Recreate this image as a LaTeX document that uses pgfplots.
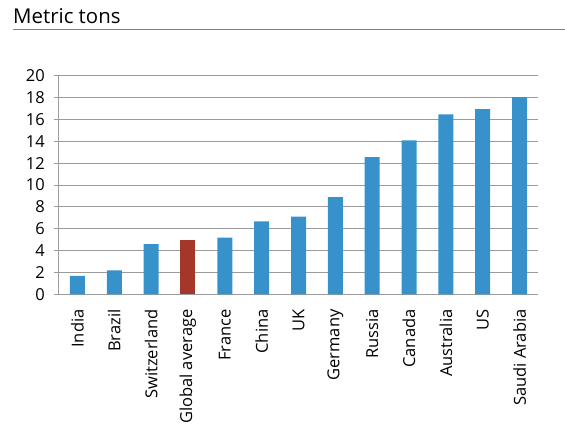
\documentclass[border=0pt]{standalone}
\usepackage{pgfplots}
\pgfplotsset{compat=1.18}
\usepackage{fontspec}
\setmainfont{Open Sans}
\definecolor{barblue}{RGB}{55,146,204}
\definecolor{barred}{RGB}{165,55,42}
\definecolor{gridgray}{RGB}{155,155,155}
\definecolor{rulegray}{RGB}{128,128,128}
\begin{document}
\begin{tikzpicture}
\useasboundingbox (0pt,0pt) rectangle (565pt,424pt);
\node[anchor=base west, inner sep=0pt, font=\fontsize{20.4}{24}\selectfont] at (13pt,400pt) {Metric tons};
\draw[rulegray, line width=1.8pt] (13pt,394.5pt) -- (565pt,394.5pt);
\begin{axis}[
  at={(59pt,129.7pt)}, anchor=south west,
  scale only axis, width=479pt, height=218.6pt,
  xmin=-0.5, xmax=12.5, ymin=0, ymax=20,
  ytick={0,2,...,20},
  xtick={0,...,12},
  xticklabels={India,Brazil,Switzerland,Global average,France,China,UK,Germany,Russia,Canada,Australia,US,Saudi Arabia},
  x tick label style={rotate=90, anchor=east, inner sep=0pt},
  xticklabel shift=10pt,
  x tick style={draw=none},
  extra x ticks={-0.5,0.5,...,12.5},
  extra x tick labels={},
  extra x tick style={tick style={draw=gridgray, line width=1pt}, major tick length=5pt, tick align=outside},
  ymajorgrids, grid style={gridgray, line width=1pt},
  y tick style={draw=gridgray, line width=1pt},
  major tick length=5pt, tick align=outside,
  yticklabel style={inner sep=0pt},
  yticklabel shift=9pt,
  tick label style={font=\fontsize{16.5}{19}\selectfont, text=black},
  /pgf/number format/assume math mode=true,
  axis x line*=bottom, axis y line*=left,
  axis line style={gridgray, line width=1pt},
  x axis line style={-}, y axis line style={-},
  ybar, bar width=15pt, bar shift=0pt,
  clip=false,
]
\addplot[fill=barblue, draw=none] coordinates {
(0,1.68) (1,2.2) (2,4.6) (4,5.18) (5,6.68) (6,7.1) (7,8.9) (8,12.56) (9,14.09) (10,16.46) (11,16.95) (12,18.05)};
\addplot[fill=barred, draw=none] coordinates {(3,4.94)};
\end{axis}
\end{tikzpicture}
\end{document}
